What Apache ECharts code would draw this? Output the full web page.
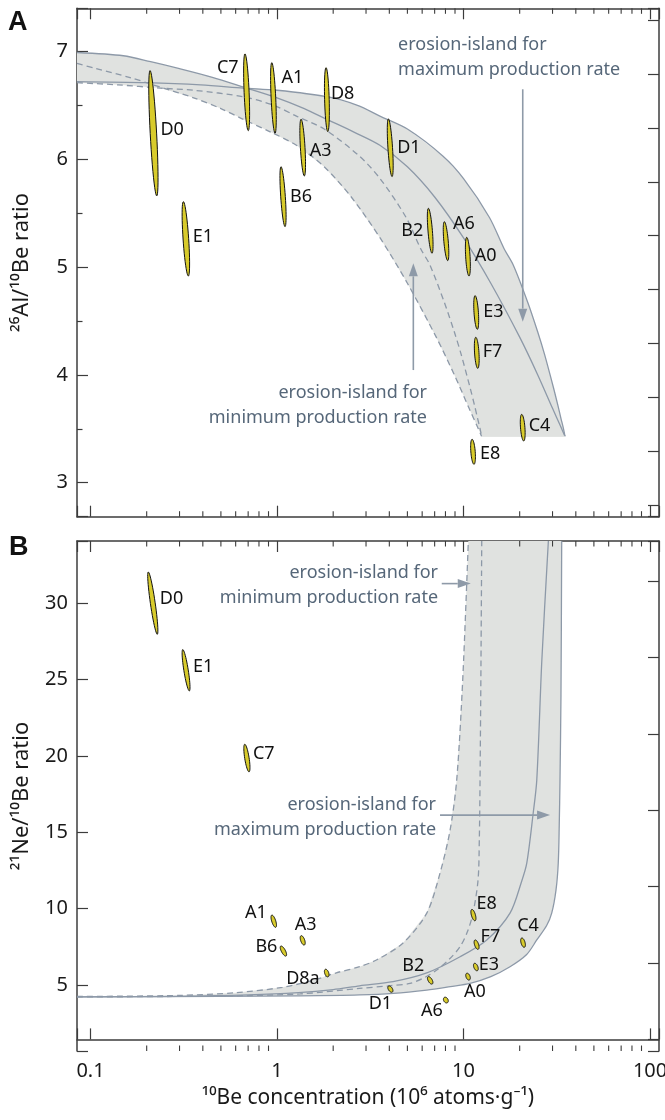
<!DOCTYPE html>
<html>
<head>
<meta charset="utf-8">
<script src="https://cdn.jsdelivr.net/npm/echarts@6/dist/echarts.min.js"></script>
<style>
html, body { margin: 0; padding: 0; background: #fff; }
#chart { width: 665px; height: 1120px; }
</style>
</head>
<body>
<div id="chart"></div>
<script>
// 10Be concentration (10^6 atoms/g) vs 26Al/10Be and 21Ne/10Be ratios

// ---- curves, panel A (26Al/10Be) : [10Be, ratio] ----
var alMaxExposure = [[0.0846, 6.72], [0.2, 6.71], [0.39, 6.69], [0.66, 6.66], [1, 6.64], [1.85, 6.58], [2.7, 6.5], [3.56, 6.4], [5, 6.28], [7.74, 6.03], [10, 5.82], [13.77, 5.46], [16.5, 5.17], [18.47, 5.02], [22.13, 4.67], [24.97, 4.4], [27.19, 4.19], [30.26, 3.89], [32.13, 3.71], [33.26, 3.6], [34.36, 3.5], [35, 3.43]];
var alMaxErosion = [[0.0846, 6.99], [0.15, 6.96], [0.21, 6.905], [0.3, 6.84], [0.45, 6.76], [0.66, 6.67], [1, 6.57], [1.4, 6.47], [1.85, 6.37], [2.6, 6.25], [3.56, 6.13], [5, 5.93], [7, 5.65], [10, 5.27], [14, 4.85], [20, 4.35], [25, 4.0], [30, 3.69], [33, 3.53], [35, 3.43]];
var alMinExposure = [[0.0846, 6.71], [0.14, 6.69], [0.236, 6.66], [0.357, 6.64], [0.66, 6.58], [0.96, 6.5], [1.27, 6.4], [1.79, 6.28], [2.76, 6.03], [3.57, 5.82], [4.92, 5.46], [5.89, 5.17], [6.6, 5.02], [7.9, 4.67], [8.92, 4.4], [9.71, 4.19], [10.81, 3.89], [11.48, 3.71], [11.88, 3.6], [12.27, 3.5], [12.5, 3.43]];
var alMinErosion = [[0.0846, 6.89], [0.107, 6.84], [0.161, 6.76], [0.236, 6.67], [0.357, 6.57], [0.5, 6.47], [0.66, 6.37], [0.93, 6.25], [1.27, 6.13], [1.79, 5.93], [2.5, 5.65], [3.57, 5.27], [5, 4.85], [7.14, 4.35], [8.93, 4.0], [10.71, 3.69], [11.79, 3.53], [12.5, 3.43]];
var alFloor = [35, 3.43];

// ---- curves, panel B (21Ne/10Be) ----
var neMaxExposure = [[0.0846, 4.23], [0.5, 4.26], [1.33, 4.29], [2.77, 4.35], [4.2, 4.45], [6.35, 4.67], [8.5, 4.9], [10.84, 5.11], [14, 5.55], [17.75, 6.2], [21.8, 7.0], [24.7, 7.95], [27.9, 8.9], [29.7, 9.71], [31.3, 11.2], [32.2, 12.98], [32.6, 15.5], [32.9, 18.42], [33.3, 24], [33.6, 34.08]];
var neMaxErosion = [[0.0846, 4.23], [0.3, 4.26], [0.7, 4.35], [1.3, 4.5], [2.0, 4.7], [2.77, 4.95], [4.19, 5.22], [6.35, 5.79], [9.58, 6.85], [13.32, 7.95], [17.75, 9.71], [20.5, 11.8], [21.83, 12.98], [23.6, 16.2], [24.7, 18.42], [26.3, 26.3], [28.5, 34.08]];
var neMinExposure = [[0.0846, 4.22], [0.5, 4.28], [1.33, 4.42], [2.77, 4.78], [4.0, 4.95], [5.17, 5.11], [6.2, 5.5], [7.18, 5.98], [8.4, 6.7], [9.58, 7.51], [10.5, 8.5], [11.24, 9.71], [11.96, 11.87], [12.15, 14.5], [12.26, 18.42], [12.4, 26], [12.52, 34.08]];
var neMinErosion = [[0.0846, 4.25], [0.3, 4.32], [0.6, 4.5], [1.07, 4.85], [1.6, 5.35], [2.08, 5.8], [2.77, 6.2], [3.41, 6.64], [4.74, 7.75], [6.35, 9.71], [7.48, 12.33], [8.47, 15.14], [9.19, 18.42], [9.9, 25], [10.61, 34.08]];

// ---- samples: ends of the error ellipses [10Be, ratio] ----
var alNames = ['D0', 'C7', 'A1', 'D8', 'A3', 'B6', 'E1', 'D1', 'B2', 'A6', 'A0', 'E3', 'F7', 'C4', 'E8'];
var alTop = [[0.2085, 6.822], [0.673, 6.977], [0.937, 6.896], [1.831, 6.85], [1.345, 6.371], [1.05, 5.931], [0.3146, 5.607], [3.954, 6.374], [6.477, 5.545], [7.888, 5.421], [10.4, 5.276], [11.53, 4.735], [11.63, 4.349], [20.5, 3.634], [11.11, 3.403]];
var alBottom = [[0.2265, 5.66], [0.701, 6.265], [0.976, 6.241], [1.871, 6.256], [1.401, 5.845], [1.104, 5.375], [0.3345, 4.917], [4.138, 5.839], [6.777, 5.128], [8.228, 5.06], [10.7, 4.917], [11.86, 4.423], [11.92, 4.061], [21.03, 3.387], [11.38, 3.171]];

var neNames = ['D0', 'E1', 'C7', 'A1', 'A3', 'B6', 'D8a', 'D1', 'B2', 'A6', 'A0', 'E3', 'F7', 'E8', 'C4'];
var neTop = [[0.204, 32.05], [0.3122, 26.97], [0.671, 20.77], [0.937, 9.58], [1.345, 8.23], [1.047, 7.55], [1.816, 6.03], [3.954, 4.93], [6.453, 5.54], [7.89, 4.19], [10.4, 5.77], [11.43, 6.42], [11.52, 7.95], [11.07, 9.95], [20.5, 8.08]];
var neBottom = [[0.228, 27.97], [0.3387, 24.26], [0.708, 18.96], [0.984, 8.78], [1.401, 7.62], [1.118, 6.9], [1.877, 5.54], [4.152, 4.54], [6.8, 5.07], [8.19, 3.84], [10.74, 5.33], [11.86, 5.94], [11.98, 7.34], [11.53, 9.21], [21.2, 7.47]];

// ---- annotations ----
var alNotes = ['erosion-island for\nmaximum production rate', 'erosion-island for\nminimum production rate'];
var alNoteAt = [[4.457, 6.944], [6.37, 3.721]];
var alArrows = [[[20.77, 6.649], [20.77, 4.494]], [[5.38, 4.045], [5.38, 5.035]]];
var neNotes = ['erosion-island for\nminimum production rate', 'erosion-island for\nmaximum production rate'];
var neNoteAt = [[7.3, 31.18], [7.12, 15.99]];
var neArrows = [[[7.64, 31.29], [10.93, 31.29]], [[7.48, 16.13], [29.1, 16.13]]];

var xTicks = [0.1, 1, 10, 100];

// ---- style ----
var FONT = '"Noto Sans", "DejaVu Sans", sans-serif';
var AXIS = '#3c3c3c';
var CURVE = '#8d99a8';
var BAND = '#e0e2e0';
var NOTE = '#566779';
var xMin = 0.0846, xMax = 111.7;
var alRange = [2.685, 7.40], neRange = [0.68, 34.08];

// label offsets from ellipse centre (px) : [dx, dy, align]
var alLabelPos = [[7, -3, 'left'], [-8, -24, 'right'], [8, -20, 'left'], [4, -6, 'left'], [7, 3, 'left'], [7, 0, 'left'], [7, -2, 'left'], [7, 0, 'left'], [-7, 0, 'right'], [7, -17, 'left'], [7, -1, 'left'], [7, -1, 'left'], [6, -1, 'left'], [6, -2, 'left'], [7, 2, 'left']];
var neLabelPos = [[7, -4, 'left'], [7, -3, 'left'], [6, -4, 'left'], [-7, -8, 'right'], [3, -15, 'center'], [-6, -4, 'right'], [-7, 6, 'right'], [-10, 15, 'center'], [-6, -15, 'right'], [-3, 11, 'right'], [7, 15, 'center'], [3, -2, 'left'], [4, -8, 'left'], [3, -11, 'left'], [5, -17, 'center']];
var alHalfW = [3.2, 2.5, 2.3, 2.3, 2.3, 2.3, 2.8, 2.3, 2.2, 2.2, 2.2, 2.2, 2.2, 2.2, 2.2];
var neHalfW = [2.4, 2.2, 2.2, 2.0, 2.0, 2.0, 2.0, 2.0, 2.0, 2.2, 2.0, 2.0, 2.0, 2.0, 2.0];

function decadeLabel(v) {
    var l = Math.log(v) / Math.LN10;
    if (Math.abs(l - Math.round(l)) > 1e-6) return '';
    return String(+Math.pow(10, Math.round(l)).toPrecision(3));
}

function xAxisOf(grid, pos, labels) {
    return {
        type: 'log', logBase: 10, gridIndex: grid, position: pos, min: xMin, max: xMax,
        axisLine: { lineStyle: { color: AXIS, width: 1.5 } },
        axisTick: { inside: true, length: 11, lineStyle: { color: AXIS, width: 1.2 } },
        axisLabel: { show: labels, formatter: decadeLabel, color: '#1a1a1a', fontSize: 20, fontFamily: FONT, margin: 10 },
        splitLine: { show: false }, minorTick: { show: false }
    };
}

function yAxisOf(grid, pos, range, split, opts) {
    var ax = {
        type: 'value', gridIndex: grid, position: pos, min: range[0], max: range[1], splitNumber: split,
        axisLine: { lineStyle: { color: AXIS, width: 1.5 } },
        axisTick: { inside: true, length: 11, lineStyle: { color: AXIS, width: 1.2 } },
        axisLabel: { show: false },
        splitLine: { show: false }
    };
    for (var k in opts) ax[k] = opts[k];
    return ax;
}

// minor ticks of the log axes (2..9 per decade), top and bottom
var minorX = [];
[-1, 0, 1].forEach(function (d) {
    [2, 3, 4, 5, 6, 7, 8, 9].forEach(function (m) {
        var v = m * Math.pow(10, d);
        if (v > xMin && v < xMax) minorX.push([v]);
    });
});

function minorSeries(xi, yi, range) {
    return {
        type: 'custom', xAxisIndex: xi, yAxisIndex: yi, silent: true, z: 6,
        data: minorX.map(function (d) { return [d[0], range[0]]; }),
        renderItem: function (params, api) {
            var b = api.coord([api.value(0), range[0]]);
            var t = api.coord([api.value(0), range[1]]);
            var st = { stroke: AXIS, lineWidth: 1.1 };
            return { type: 'group', children: [
                { type: 'line', shape: { x1: b[0], y1: b[1], x2: b[0], y2: b[1] - 5.5 }, style: st },
                { type: 'line', shape: { x1: t[0], y1: t[1], x2: t[0], y2: t[1] + 5.5 }, style: st }
            ] };
        }
    };
}

function bandSeries(xi, yi, poly, probe) {
    return {
        type: 'custom', xAxisIndex: xi, yAxisIndex: yi, silent: true, z: 1,
        data: [probe],
        renderItem: function (params, api) {
            return { type: 'polygon', shape: { points: poly.map(function (p) { return api.coord(p); }) },
                style: { fill: BAND } };
        }
    };
}

function curveSeries(xi, yi, data, dashed) {
    return {
        type: 'line', xAxisIndex: xi, yAxisIndex: yi, data: data, symbol: 'none', smooth: 0.3,
        silent: true, z: 3,
        lineStyle: { color: CURVE, width: 1.3, type: dashed ? [6, 4] : 'solid' }
    };
}

function ellipseSeries(xi, yi, names, tops, bots, labelPos, halfW) {
    return {
        type: 'custom', xAxisIndex: xi, yAxisIndex: yi, silent: true, z: 8,
        data: names.map(function (n, i) { return [tops[i][0], tops[i][1], bots[i][0], bots[i][1]]; }),
        encode: { x: 0, y: 1 },
        renderItem: function (params, api) {
            var i = params.dataIndex;
            var p1 = api.coord([api.value(0), api.value(1)]);
            var p2 = api.coord([api.value(2), api.value(3)]);
            var cx = (p1[0] + p2[0]) / 2, cy = (p1[1] + p2[1]) / 2;
            var dx = p2[0] - p1[0], dy = p2[1] - p1[1];
            var len = Math.sqrt(dx * dx + dy * dy);
            var a = len / 2, b = halfW[i];
            var ux = dx / len, uy = dy / len, vx = -uy, vy = ux;
            var pts = [];
            for (var k = 0; k < 48; k++) {
                var t = k / 48 * Math.PI * 2;
                pts.push([cx + a * Math.cos(t) * ux + b * Math.sin(t) * vx,
                          cy + a * Math.cos(t) * uy + b * Math.sin(t) * vy]);
            }
            var lp = labelPos[i];
            return { type: 'group', children: [
                { type: 'polygon', shape: { points: pts }, style: { fill: '#d8cb2c', stroke: '#111', lineWidth: 1 } },
                { type: 'text', style: { text: names[i], x: cx + lp[0], y: cy + lp[1], align: lp[2], verticalAlign: 'middle',
                    fontSize: 18, fontFamily: FONT, fill: '#111' } }
            ] };
        }
    };
}

function noteSeries(xi, yi, texts, at, aligns, arrows) {
    return {
        type: 'custom', xAxisIndex: xi, yAxisIndex: yi, silent: true, z: 9,
        data: at,
        renderItem: function (params, api) {
            var i = params.dataIndex;
            var p = api.coord([api.value(0), api.value(1)]);
            var s = api.coord(arrows[i][0]), e = api.coord(arrows[i][1]);
            var dx = e[0] - s[0], dy = e[1] - s[1];
            var len = Math.sqrt(dx * dx + dy * dy);
            var ux = dx / len, uy = dy / len, hl = 13, hw = 4.5;
            var bx = e[0] - ux * hl, by = e[1] - uy * hl;
            return { type: 'group', children: [
                { type: 'text', style: { text: texts[i], x: p[0], y: p[1], align: aligns[i], verticalAlign: 'middle',
                    lineHeight: 25, fontSize: 18, fontFamily: FONT, fill: NOTE } },
                { type: 'line', shape: { x1: s[0], y1: s[1], x2: bx, y2: by }, style: { stroke: '#8e9aa8', lineWidth: 1.6 } },
                { type: 'polygon', shape: { points: [[e[0], e[1]], [bx - uy * hw, by + ux * hw], [bx + uy * hw, by - ux * hw]] },
                    style: { fill: '#8e9aa8' } }
            ] };
        }
    };
}

// outline of the grey island: upper envelope left to right, lower envelope back
var alBand = alMaxErosion.filter(function (p) { return p[0] <= 0.66; })
    .concat(alMaxExposure.filter(function (p) { return p[0] > 0.66; }))
    .concat([alFloor])
    .concat(alMinErosion.filter(function (p) { return p[0] > 0.236; }).reverse())
    .concat(alMinExposure.filter(function (p) { return p[0] <= 0.236; }).reverse());
var neBand = neMinErosion.concat(neMaxExposure.slice().reverse());

var chart = echarts.init(document.getElementById('chart'), null, { renderer: 'canvas' });
chart.setOption({
    animation: false,
    backgroundColor: '#fff',
    grid: [
        { left: 77, top: 8.3, width: 582, height: 508.4, containLabel: false, outerBoundsMode: 'none' },
        { left: 77, top: 541, width: 582, height: 510, containLabel: false, outerBoundsMode: 'none' }
    ],
    xAxis: [
        xAxisOf(0, 'bottom', false),
        xAxisOf(0, 'top', false),
        Object.assign(xAxisOf(1, 'bottom', true), {
            name: '¹⁰Be concentration (10⁶ atoms·g⁻¹)', nameLocation: 'middle', nameGap: 37,
            nameTextStyle: { fontSize: 21, color: '#1a1a1a', fontFamily: FONT }
        }),
        xAxisOf(1, 'top', false)
    ],
    yAxis: [
        yAxisOf(0, 'left', alRange, 5, {
            axisLabel: { show: true, color: '#1a1a1a', fontSize: 20, fontFamily: FONT, margin: 9,
                formatter: function (v) { return Math.abs(v - Math.round(v)) < 1e-9 ? String(Math.round(v)) : ''; } },
            minorTick: { show: true, splitNumber: 2, length: 5.5, lineStyle: { color: AXIS, width: 1.2 } },
            name: '²⁶Al/¹⁰Be ratio', nameLocation: 'middle', nameRotate: 90, nameGap: 44,
            nameTextStyle: { fontSize: 22, color: '#1a1a1a', fontFamily: FONT }
        }),
        yAxisOf(0, 'right', [alRange[0] + 0.209, alRange[1] + 0.209], 9, {}),
        yAxisOf(1, 'left', neRange, 6, {
            axisLabel: { show: true, color: '#1a1a1a', fontSize: 20, fontFamily: FONT, margin: 9,
                formatter: function (v) { return Math.abs(v / 5 - Math.round(v / 5)) < 1e-9 ? String(Math.round(v)) : ''; } },
            name: '²¹Ne/¹⁰Be ratio', nameLocation: 'middle', nameRotate: 90, nameGap: 44,
            nameTextStyle: { fontSize: 22, color: '#1a1a1a', fontFamily: FONT }
        }),
        yAxisOf(1, 'right', [neRange[0] - 1.44, neRange[1] - 1.44], 6, {})
    ],
    graphic: [
        { type: 'text', left: 8, top: 9, style: { text: 'A', fontSize: 27, fontWeight: 'bold', fontFamily: '"Liberation Sans", Arial, sans-serif', fill: '#111' } },
        { type: 'text', left: 9, top: 534, style: { text: 'B', fontSize: 27, fontWeight: 'bold', fontFamily: '"Liberation Sans", Arial, sans-serif', fill: '#111' } }
    ],
    series: [
        bandSeries(0, 0, alBand, [1, 5]),
        curveSeries(0, 0, alMaxExposure, false),
        curveSeries(0, 0, alMaxErosion, false),
        curveSeries(0, 0, alMinExposure, true),
        curveSeries(0, 0, alMinErosion, true),
        {
            type: 'line', xAxisIndex: 0, yAxisIndex: 0, symbol: 'none', silent: true, z: 3,
            data: [alMinErosion[alMinErosion.length - 1], alFloor],
            lineStyle: { color: BAND, width: 1 }
        },
        ellipseSeries(0, 0, alNames, alTop, alBottom, alLabelPos, alHalfW),
        noteSeries(0, 0, alNotes, alNoteAt, ['left', 'right'], alArrows),
        minorSeries(0, 0, alRange),

        bandSeries(2, 2, neBand, [1, 10]),
        curveSeries(2, 2, neMaxExposure, false),
        curveSeries(2, 2, neMaxErosion, false),
        curveSeries(2, 2, neMinExposure, true),
        curveSeries(2, 2, neMinErosion, true),
        ellipseSeries(2, 2, neNames, neTop, neBottom, neLabelPos, neHalfW),
        noteSeries(2, 2, neNotes, neNoteAt, ['right', 'right'], neArrows),
        minorSeries(2, 2, neRange)
    ]
});
</script>
</body>
</html>
